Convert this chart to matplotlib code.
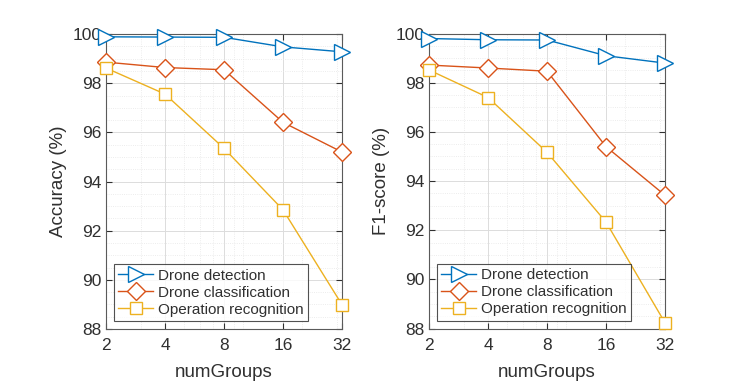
import matplotlib.pyplot as plt
import matplotlib.ticker as mticker
import numpy as np

# Datos
num_groups = [2, 4, 8, 16, 32]
series_names = ["Drone detection", "Drone classification", "Operation recognition"]
accuracy_detection = [99.89, 99.88, 99.87, 99.48, 99.28]
accuracy_classification = [98.86, 98.64, 98.55, 96.41, 95.20]
accuracy_recognition = [98.62, 97.56, 95.35, 92.85, 88.99]
f1_detection = [99.80, 99.75, 99.74, 99.10, 98.80]
f1_classification = [98.72, 98.60, 98.47, 95.40, 93.42]
f1_recognition = [98.52, 97.40, 95.17, 92.33, 88.23]

colors = ["#0072BD", "#D95319", "#EDB120"]
markers = [">", "D", "s"]
marker_sizes = [11, 9, 8]
text_color = "#303030"

plt.rcParams["font.family"] = ["Liberation Sans", "DejaVu Sans"]

fig = plt.figure(figsize=(7.33, 3.82), dpi=100)
ax_left = fig.add_axes([0.1446, 0.1387, 0.322, 0.772])
ax_right = fig.add_axes([0.5853, 0.1400, 0.322, 0.772])

panels = [
    (ax_left, [accuracy_detection, accuracy_classification, accuracy_recognition], "Accuracy (%)"),
    (ax_right, [f1_detection, f1_classification, f1_recognition], "F1-score (%)"),
]

for ax, values, ylabel in panels:
    for vals, name, c, m, ms in zip(values, series_names, colors, markers, marker_sizes):
        ax.plot(num_groups, vals, color=c, marker=m, markersize=ms,
                markerfacecolor="white", markeredgecolor=c,
                markeredgewidth=1.0, linewidth=1.0, label=name,
                clip_on=False, zorder=3)
    # Escala log en x
    ax.set_xscale("log", base=2)
    ax.set_xlim(2, 32)
    ax.set_ylim(88, 100)
    ax.set_xticks(num_groups)
    ax.xaxis.set_major_formatter(mticker.FixedFormatter([str(g) for g in num_groups]))
    ax.xaxis.set_minor_locator(mticker.FixedLocator([3, 5, 6, 7, 9, 10, 20, 30]))
    ax.xaxis.set_minor_formatter(mticker.NullFormatter())
    ax.set_yticks(np.arange(88, 101, 2))
    ax.yaxis.set_minor_locator(mticker.MultipleLocator(0.5))
    # Rejilla
    ax.grid(which="major", color="#dcdcdc", linewidth=0.7, linestyle="-")
    ax.grid(which="minor", color="#e6e6e6", linewidth=0.6, linestyle=":")
    ax.set_axisbelow(True)
    ax.tick_params(which="both", direction="in", top=True, right=True,
                   colors=text_color, labelsize=12.5, length=4)
    ax.tick_params(axis="x", which="major", pad=6.5)
    ax.tick_params(which="minor", length=0)
    for s in ax.spines.values():
        s.set_color("#5a5a5a")
        s.set_linewidth(0.8)
    ax.set_xlabel("numGroups", fontsize=13.5, color=text_color, labelpad=8)
    ax.set_ylabel(ylabel, fontsize=13.5, color=text_color, labelpad=4)
    leg = ax.legend(loc="lower left", fontsize=11, frameon=True, fancybox=False,
                    borderpad=0.3, labelspacing=0.2, handlelength=2.3,
                    handletextpad=0.3, borderaxespad=0.5)
    leg.get_frame().set_edgecolor("#262626")
    leg.get_frame().set_linewidth(0.8)
    for t in leg.get_texts():
        t.set_color(text_color)

fig.savefig("out.png", dpi=100)
